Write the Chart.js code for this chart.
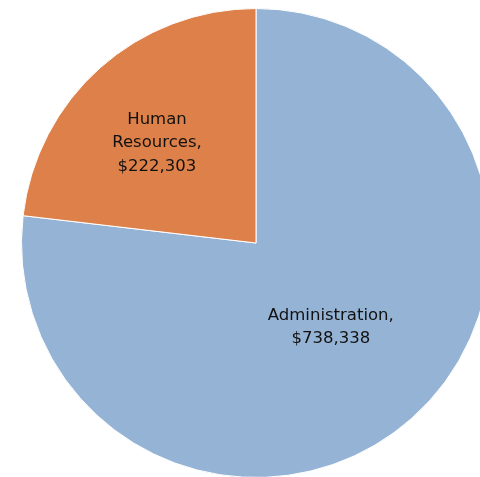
<!DOCTYPE html>
<html>
<head>
<meta charset="utf-8">
<script src="https://cdn.jsdelivr.net/npm/chart.js@4"></script>
<style>
html,body{margin:0;padding:0;background:#fff;overflow:hidden;width:480px;height:477px;}
canvas{display:block;}
</style>
</head>
<body>
<canvas id="c" width="512" height="490"></canvas>
<script>
const categories = ["Administration", "Human Resources"];
const values = [738338, 222303];
const valueLabels = ["$738,338", "$222,303"];
const colors = ["#95B3D5", "#DE8049"];

const labelPlugin = {
  id: 'sliceLabels',
  afterDatasetsDraw(chart) {
    const ctx = chart.ctx;
    const meta = chart.getDatasetMeta(0);
    const factors = [0.48, 0.60];
    const shifts = [[0, 0], [-5.5, 5]];
    const lines = [
      [categories[0] + ",", valueLabels[0]],
      ["Human", "Resources,", valueLabels[1]]
    ];
    ctx.save();
    ctx.font = '16.5px "DejaVu Sans", sans-serif';
    ctx.fillStyle = '#111';
    ctx.textAlign = 'center';
    ctx.textBaseline = 'middle';
    meta.data.forEach((arc, i) => {
      const p = arc.getProps(['x','y','startAngle','endAngle','outerRadius']);
      const mid = (p.startAngle + p.endAngle) / 2;
      const r = p.outerRadius * factors[i];
      const cx = p.x + Math.cos(mid) * r + shifts[i][0];
      const cy = p.y + Math.sin(mid) * r + shifts[i][1];
      const lh = 23.5;
      const ls = lines[i];
      ls.forEach((t, k) => {
        ctx.fillText(t, cx, cy + (k - (ls.length - 1) / 2) * lh);
      });
    });
    ctx.restore();
  }
};

new Chart(document.getElementById('c'), {
  type: 'pie',
  data: {
    labels: categories,
    datasets: [{
      data: values,
      backgroundColor: colors,
      borderColor: '#ffffff',
      borderWidth: 1
    }]
  },
  options: {
    responsive: false,
    animation: false,
    layout: { padding: { top: 8, bottom: 12, left: 0, right: 0 } },
    plugins: {
      legend: { display: false },
      tooltip: { enabled: false }
    }
  },
  plugins: [labelPlugin]
});
</script>
</body>
</html>
